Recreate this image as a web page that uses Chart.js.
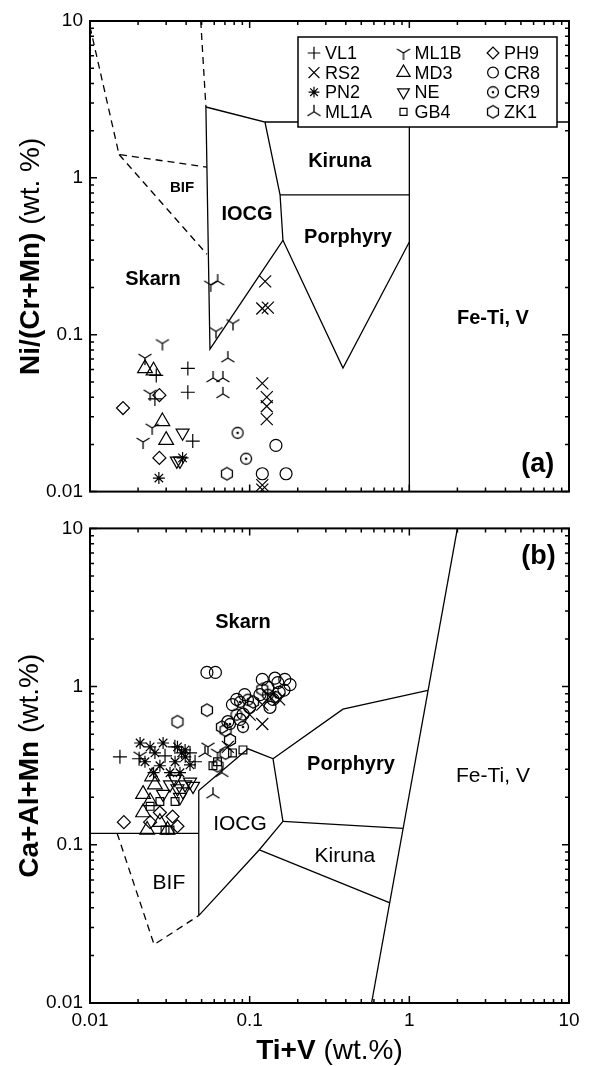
<!DOCTYPE html>
<html>
<head>
<meta charset="utf-8">
<script src="https://cdn.jsdelivr.net/npm/chart.js@4.4.1/dist/chart.umd.min.js"></script>
<style>
  html, body { margin: 0; padding: 0; background: #fff; }
  #wrap { position: relative; width: 589px; height: 1066px; }
  #chartA { position: absolute; left: 0; top: 0; }
  #chartB { position: absolute; left: 0; top: 510px; }
</style>
</head>
<body>
<div id="wrap">
  <canvas id="chartA" width="589" height="510"></canvas>
  <canvas id="chartB" width="589" height="556"></canvas>
</div>
<script>
// axis ticks (both panels, both axes: log 0.01 - 10)
const xTicks = [0.01, 0.1, 1, 10];
const yTicks = [0.01, 0.1, 1, 10];

const seriesNames = ['VL1', 'RS2', 'PN2', 'ML1A', 'ML1B', 'MD3', 'NE', 'GB4', 'PH9', 'CR8', 'CR9', 'ZK1'];

// panel (a): Ti+V vs Ni/(Cr+Mn)
const aVL1 = [[0.041, 0.061], [0.041, 0.043], [0.044, 0.021], [0.026, 0.055], [0.0255, 0.039]];
const aRS2 = [[0.125, 0.219], [0.120, 0.147], [0.130, 0.149], [0.120, 0.049], [0.128, 0.040], [0.128, 0.035], [0.128, 0.029], [0.120, 0.011], [0.120, 0.0103]];
const aPN2 = [[0.027, 0.0122], [0.038, 0.0164]];
const aML1A = [[0.063, 0.220], [0.073, 0.071], [0.059, 0.053], [0.068, 0.053], [0.068, 0.042]];
const aML1B = [[0.0284, 0.088], [0.0221, 0.071], [0.0238, 0.042], [0.0245, 0.0255], [0.0215, 0.0207], [0.057, 0.208], [0.0615, 0.105], [0.0786, 0.118]];
const aMD3 = [[0.0221, 0.061], [0.025, 0.059], [0.0284, 0.028], [0.030, 0.0213]];
const aNE = [[0.038, 0.0237], [0.035, 0.0157], [0.0366, 0.0157]];
const aGB4 = [];
const aPH9 = [[0.0161, 0.0341], [0.0272, 0.0412], [0.0272, 0.0164]];
const aCR8 = [[0.146, 0.0197], [0.120, 0.013], [0.169, 0.013]];
const aCR9 = [[0.084, 0.0237], [0.095, 0.0162]];
const aZK1 = [[0.072, 0.013]];

// panel (b): Ti+V vs Ca+Al+Mn
const bVL1 = [[0.0203, 0.35], [0.0455, 0.335], [0.034, 0.416], [0.0295, 0.365], [0.0423, 0.381], [0.0154, 0.36]];
const bRS2 = [[0.120, 0.58], [0.120, 0.77], [0.153, 0.83], [0.100, 0.665], [0.073, 0.416], [0.134, 0.86]];
const bPN2 = [[0.0238, 0.416], [0.0255, 0.381], [0.0221, 0.335], [0.0274, 0.316], [0.0353, 0.416], [0.0375, 0.381], [0.0341, 0.335], [0.0394, 0.398], [0.0317, 0.2855], [0.0287, 0.44], [0.0423, 0.32], [0.0366, 0.2855], [0.025, 0.2855], [0.0206, 0.44], [0.0395, 0.36]];
const bML1A = [[0.0589, 0.209], [0.0525, 0.381], [0.067, 0.2855]];
const bML1B = [[0.0629, 0.381], [0.0206, 0.365], [0.0548, 0.416]];
const bMD3 = [[0.0215, 0.209], [0.0215, 0.160], [0.0228, 0.124], [0.0306, 0.124], [0.0255, 0.24], [0.0274, 0.139], [0.0238, 0.188], [0.0245, 0.27]];
const bNE = [[0.0353, 0.227], [0.0382, 0.217], [0.0317, 0.24], [0.0423, 0.25], [0.0287, 0.209], [0.0394, 0.24], [0.034, 0.26], [0.0442, 0.235], [0.0366, 0.2]];
const bGB4 = [[0.0589, 0.316], [0.0629, 0.335], [0.0908, 0.398], [0.078, 0.381], [0.0295, 0.124], [0.0317, 0.124], [0.0274, 0.188], [0.0238, 0.175], [0.0341, 0.188]];
const bPH9 = [[0.0163, 0.139], [0.0329, 0.151], [0.0353, 0.131], [0.0274, 0.160], [0.0238, 0.139]];
const bCR8 = [[0.054, 1.23], [0.061, 1.23], [0.120, 1.11], [0.144, 1.13], [0.166, 1.11], [0.130, 0.99], [0.153, 0.92], [0.140, 0.83], [0.116, 0.89], [0.164, 0.95], [0.150, 1.06], [0.179, 1.03], [0.083, 0.83], [0.093, 0.89], [0.078, 0.77], [0.100, 0.74], [0.091, 0.67], [0.087, 0.62], [0.073, 0.60], [0.134, 0.74]];
const bCR9 = [[0.087, 0.80], [0.0976, 0.826], [0.130, 0.888], [0.146, 0.857], [0.0827, 0.665], [0.0753, 0.58], [0.0908, 0.555]];
const bZK1 = [[0.054, 0.71], [0.0353, 0.60], [0.0706, 0.53], [0.0753, 0.46], [0.067, 0.555], [0.0629, 0.316], [0.0706, 0.38], [0.120, 0.96], [0.105, 0.80]];

// field boundaries, panel (a)
const aIOCG = [[0.0532, 2.83], [0.0564, 0.081], [0.1616, 0.40], [0.155, 0.78], [0.1247, 2.27], [0.0532, 2.83]];
const aKirunaTop = [[0.1247, 2.27], [10, 2.27]];
const aKirunaBottom = [[0.155, 0.78], [1, 0.78]];
const aFeTiEdge = [[1, 2.27], [1, 0.01]];
const aPorphyry = [[0.1616, 0.40], [0.384, 0.0614], [1, 0.39]];
const aSkarnDash = [[0.0494, 10], [0.0532, 2.83]];
const aBifDash = [[0.01, 9.2], [0.0152, 1.41], [0.054, 1.17]];
const aBifDash2 = [[0.0152, 1.41], [0.054, 0.326]];

// field boundaries, panel (b)
const bBifTop = [[0.01, 0.118], [0.048, 0.118]];
const bBifDash = [[0.0148, 0.118], [0.0252, 0.0234], [0.048, 0.0357]];
const bIOCG = [[0.048, 0.0357], [0.048, 0.22], [0.0976, 0.404], [0.14, 0.35], [0.1616, 0.1406], [0.115, 0.093], [0.048, 0.0357]];
const bPorphyryTop = [[0.14, 0.35], [0.384, 0.72], [1.307, 0.948]];
const bKirunaTop = [[0.1616, 0.1406], [0.912, 0.127]];
const bKirunaBottom = [[0.115, 0.093], [0.756, 0.043]];
const bFeTi = [[2.0, 10], [0.58, 0.01]];

const FONT = "'Liberation Sans', Arial, Helvetica, sans-serif";
Chart.defaults.font.family = FONT;
Chart.defaults.color = '#000';

function makeMarker(draw) {
  const c = document.createElement('canvas');
  c.width = 20; c.height = 20;
  const g = c.getContext('2d');
  g.strokeStyle = '#000';
  g.fillStyle = '#000';
  g.lineWidth = 1.3;
  g.translate(10, 10);
  draw(g);
  return c;
}
const ML1A_MARK = makeMarker(g => {
  g.beginPath();
  g.moveTo(0, 0); g.lineTo(0, -7);
  g.moveTo(0, 0); g.lineTo(-6.5, 4);
  g.moveTo(0, 0); g.lineTo(6.5, 4);
  g.stroke();
});
const ML1B_MARK = makeMarker(g => {
  g.beginPath();
  g.moveTo(0, 0); g.lineTo(0, 7);
  g.moveTo(0, 0); g.lineTo(-6.5, -4);
  g.moveTo(0, 0); g.lineTo(6.5, -4);
  g.stroke();
});
const CR9_MARK = makeMarker(g => {
  g.beginPath(); g.arc(0, 0, 5.5, 0, Math.PI * 2); g.stroke();
  g.beginPath(); g.arc(0, 0, 1.3, 0, Math.PI * 2); g.fill();
});
const ZK1_MARK = makeMarker(g => {
  g.beginPath();
  for (let k = 0; k < 6; k++) {
    const t = Math.PI / 2 + k * Math.PI / 3;
    g.lineTo(6.3 * Math.cos(t), 6.3 * Math.sin(t));
  }
  g.closePath(); g.stroke();
});

const markerStyles = {
  VL1: { style: 'cross', r: 7 },
  RS2: { style: 'crossRot', r: 8.5 },
  PN2: { style: 'star', r: 6 },
  ML1A: { style: ML1A_MARK, r: 7 },
  ML1B: { style: ML1B_MARK, r: 7 },
  MD3: { style: 'triangle', r: 8.5 },
  NE: { style: 'triangle', r: 7.5, rot: 180 },
  GB4: { style: 'rect', r: 5.5 },
  PH9: { style: 'rectRot', r: 6.5 },
  CR8: { style: 'circle', r: 6 },
  CR9: { style: CR9_MARK, r: 6 },
  ZK1: { style: ZK1_MARK, r: 6 }
};

function sampleSets(arrays) {
  return seriesNames.map((name, i) => ({
    label: name,
    sample: true,
    data: arrays[i].map(([x, y]) => ({ x, y })),
    showLine: false,
    pointStyle: markerStyles[name].style,
    pointRadius: markerStyles[name].r,
    pointRotation: markerStyles[name].rot || 0,
    pointBorderColor: '#000',
    pointBackgroundColor: 'rgba(0,0,0,0)',
    pointBorderWidth: 1.2
  }));
}

function boundary(pts, dashed) {
  return {
    data: pts.map(([x, y]) => ({ x, y })),
    showLine: true,
    pointRadius: 0,
    borderColor: '#000',
    borderWidth: 1.3,
    borderDash: dashed ? [7, 5] : [],
    fill: false
  };
}

function drawRich(ctx, parts, size) {
  const fonts = parts.map(p => (p.bold ? 'bold ' : '') + size + 'px ' + FONT);
  const widths = parts.map((p, i) => { ctx.font = fonts[i]; return ctx.measureText(p.text).width; });
  let u = -widths.reduce((s, w) => s + w, 0) / 2;
  parts.forEach((p, i) => { ctx.font = fonts[i]; ctx.fillText(p.text, u, 0); u += widths[i]; });
}

// frame, inward ticks on all sides, field names, axis titles
function decorations(cfg) {
  return {
    id: 'decor',
    afterDatasetsDraw(chart) {
      const { ctx, chartArea: a, scales: { x, y } } = chart;
      ctx.save();
      ctx.fillStyle = '#000';
      ctx.textAlign = 'center';
      ctx.textBaseline = 'middle';
      cfg.labels.forEach(l => {
        ctx.font = (l.bold ? 'bold ' : '') + l.size + 'px ' + FONT;
        ctx.fillText(l.text, x.getPixelForValue(l.x), y.getPixelForValue(l.y));
      });

      const marks = [];
      [0.01, 0.1, 1].forEach(d => { for (let m = 1; m <= 9; m++) marks.push([d * m, m === 1]); });
      marks.push([10, true]);
      ctx.strokeStyle = '#000';
      ctx.lineWidth = 1.5;
      ctx.beginPath();
      marks.forEach(([v, major]) => {
        const len = major ? 7 : 4;
        const px = x.getPixelForValue(v), py = y.getPixelForValue(v);
        ctx.moveTo(px, a.bottom); ctx.lineTo(px, a.bottom - len);
        ctx.moveTo(px, a.top); ctx.lineTo(px, a.top + len);
        ctx.moveTo(a.left, py); ctx.lineTo(a.left + len, py);
        ctx.moveTo(a.right, py); ctx.lineTo(a.right - len, py);
      });
      ctx.stroke();
      ctx.lineWidth = 2;
      ctx.strokeRect(a.left, a.top, a.right - a.left, a.bottom - a.top);

      ctx.textAlign = 'left';
      ctx.textBaseline = 'alphabetic';
      ctx.save();
      ctx.translate(cfg.yTitleX, (a.top + a.bottom) / 2);
      ctx.rotate(-Math.PI / 2);
      drawRich(ctx, cfg.yTitle, 28);
      ctx.restore();
      if (cfg.xTitle) {
        ctx.save();
        ctx.translate((a.left + a.right) / 2, cfg.xTitleY);
        drawRich(ctx, cfg.xTitle, 28);
        ctx.restore();
      }
      ctx.restore();
    }
  };
}

const legendBox = {
  id: 'legendBox',
  afterDraw(chart) {
    const { ctx, chartArea: a } = chart;
    const left = a.right - 271, top = a.top + 16, w = 259, h = 90;
    ctx.save();
    ctx.fillStyle = '#fff';
    ctx.fillRect(left, top, w, h);
    ctx.strokeStyle = '#000';
    ctx.lineWidth = 1.5;
    ctx.strokeRect(left, top, w, h);
    ctx.font = '18px ' + FONT;
    ctx.textAlign = 'left';
    ctx.textBaseline = 'middle';
    chart.data.datasets.filter(ds => ds.sample).forEach((ds, i) => {
      const col = Math.floor(i / 4), row = i % 4;
      const mx = left + 16 + col * 89.5, my = top + 16 + row * 19.6;
      const st = markerStyles[ds.label];
      ctx.strokeStyle = '#000';
      ctx.fillStyle = 'rgba(0,0,0,0)';
      ctx.lineWidth = 1.2;
      Chart.helpers.drawPoint(ctx, { pointStyle: st.style, radius: st.r * 0.9, rotation: st.rot || 0, borderWidth: 1.2 }, mx, my);
      ctx.fillStyle = '#000';
      ctx.fillText(ds.label, mx + 11, my + 1);
    });
    ctx.restore();
  }
};

function makeOptions(p) {
  return {
    responsive: false,
    animation: false,
    events: [],
    layout: { padding: { left: 0, right: 20, top: p.top, bottom: 0 } },
    plugins: { legend: { display: false }, tooltip: { enabled: false } },
    scales: {
      x: {
        type: 'logarithmic', min: 0.01, max: 10,
        grid: { display: false, drawTicks: false },
        border: { display: false },
        ticks: { display: p.xLabels, font: { size: 19 }, color: '#000', padding: 6, autoSkip: false, maxRotation: 0, callback: v => String(v) },
        afterBuildTicks: s => { s.ticks = xTicks.map(v => ({ value: v })); },
        afterFit: s => { s.height = p.xHeight; }
      },
      y: {
        type: 'logarithmic', min: 0.01, max: 10,
        grid: { display: false, drawTicks: false },
        border: { display: false },
        ticks: { font: { size: 19 }, color: '#000', padding: 7, autoSkip: false, callback: v => String(v) },
        afterBuildTicks: s => { s.ticks = yTicks.map(v => ({ value: v })); },
        afterFit: s => { s.width = 90; }
      }
    }
  };
}

// Panel (a)
new Chart(document.getElementById('chartA'), {
  type: 'scatter',
  data: {
    datasets: [
      boundary(aIOCG), boundary(aKirunaTop), boundary(aKirunaBottom), boundary(aFeTiEdge),
      boundary(aPorphyry), boundary(aSkarnDash, true), boundary(aBifDash, true), boundary(aBifDash2, true),
      ...sampleSets([aVL1, aRS2, aPN2, aML1A, aML1B, aMD3, aNE, aGB4, aPH9, aCR8, aCR9, aZK1])
    ]
  },
  options: makeOptions({ top: 21, xHeight: 13, xLabels: false }),
  plugins: [decorations({
    labels: [
      { text: 'BIF', x: 0.0377, y: 0.861, size: 15, bold: true },
      { text: 'IOCG', x: 0.0962, y: 0.582, size: 20, bold: true },
      { text: 'Skarn', x: 0.0248, y: 0.2235, size: 20, bold: true },
      { text: 'Kiruna', x: 0.367, y: 1.27, size: 20, bold: true },
      { text: 'Porphyry', x: 0.413, y: 0.417, size: 20, bold: true },
      { text: 'Fe-Ti, V', x: 3.34, y: 0.127, size: 20, bold: true },
      { text: '(a)', x: 6.38, y: 0.0148, size: 27, bold: true }
    ],
    yTitleX: 39,
    yTitle: [{ text: 'Ni/(Cr+Mn)', bold: true }, { text: ' (wt. %)' }]
  }), legendBox]
});

// Panel (b)
new Chart(document.getElementById('chartB'), {
  type: 'scatter',
  data: {
    datasets: [
      boundary(bBifTop), boundary(bBifDash, true), boundary(bIOCG), boundary(bPorphyryTop),
      boundary(bKirunaTop), boundary(bKirunaBottom), boundary(bFeTi),
      ...sampleSets([bVL1, bRS2, bPN2, bML1A, bML1B, bMD3, bNE, bGB4, bPH9, bCR8, bCR9, bZK1])
    ]
  },
  options: makeOptions({ top: 15, xHeight: 63, xLabels: true }),
  plugins: [decorations({
    labels: [
      { text: 'Skarn', x: 0.0908, y: 2.53, size: 20, bold: true },
      { text: 'Porphyry', x: 0.431, y: 0.321, size: 20, bold: true },
      { text: 'Fe-Ti, V', x: 3.34, y: 0.27, size: 21 },
      { text: 'Kiruna', x: 0.395, y: 0.0848, size: 21 },
      { text: 'IOCG', x: 0.087, y: 0.1346, size: 21 },
      { text: 'BIF', x: 0.0312, y: 0.0574, size: 21 },
      { text: '(b)', x: 6.45, y: 6.67, size: 27, bold: true }
    ],
    yTitleX: 38,
    yTitle: [{ text: 'Ca+Al+Mn', bold: true }, { text: ' (wt.%)' }],
    xTitleY: 549,
    xTitle: [{ text: 'Ti+V', bold: true }, { text: ' (wt.%)' }]
  })]
});
</script>
</body>
</html>
